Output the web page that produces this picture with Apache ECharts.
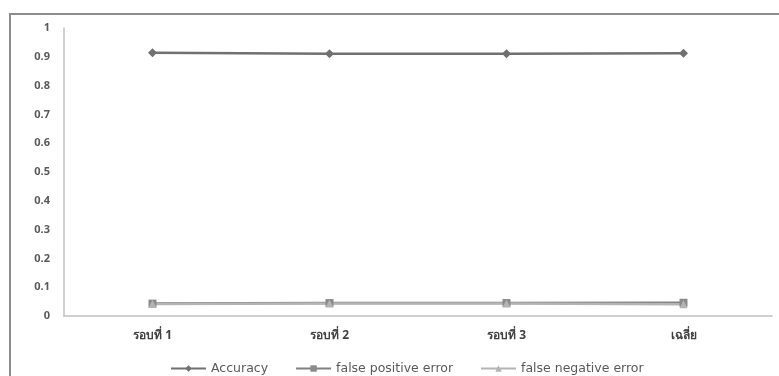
<!DOCTYPE html>
<html>
<head>
<meta charset="utf-8">
<script src="https://cdn.jsdelivr.net/npm/echarts@6/dist/echarts.min.js"></script>
<style>
  html, body { margin: 0; padding: 0; background: #fff; }
  #chart { width: 779px; height: 376px; }
</style>
</head>
<body>
<div id="chart"></div>
<script>
// Rounds of evaluation and the average
const categories = ['รอบที่ 1', 'รอบที่ 2', 'รอบที่ 3', 'เฉลี่ย'];
const accuracy = [0.914, 0.911, 0.911, 0.912];
const falsePositive = [0.043, 0.045, 0.045, 0.046];
const falseNegative = [0.042, 0.043, 0.043, 0.041];
const yTicks = [0, 0.1, 0.2, 0.3, 0.4, 0.5, 0.6, 0.7, 0.8, 0.9, 1];

const chart = echarts.init(document.getElementById('chart'));
const font = '"Noto Sans", "DejaVu Sans", sans-serif';
const legendFont = '"DejaVu Sans", sans-serif';

chart.setOption({
  backgroundColor: '#ffffff',
  animation: false,
  graphic: [{
    type: 'rect',
    shape: { x: 10, y: 14, width: 800, height: 400 },
    style: { fill: 'none', stroke: '#8c8c8c', lineWidth: 2 },
    silent: true
  }],
  grid: { left: 64, top: 28, right: 7, bottom: 60 },
  legend: {
    top: 357,
    left: 165,
    itemWidth: 35,
    itemHeight: 8,
    itemGap: 27,
    textStyle: { fontFamily: legendFont, fontSize: 12.5, color: '#595959' },
    data: ['Accuracy', 'false positive error', 'false negative error']
  },
  xAxis: {
    type: 'category',
    data: categories,
    axisLine: { lineStyle: { color: '#c0c0c0', width: 1.5 } },
    axisTick: { show: false },
    axisLabel: { fontFamily: font, fontSize: 12, fontWeight: 'bold', color: '#404040', margin: 14 }
  },
  yAxis: {
    type: 'value',
    min: 0,
    max: 1,
    interval: 0.1,
    splitLine: { show: false },
    axisLine: { show: true, lineStyle: { color: '#c0c0c0', width: 1.5 } },
    axisTick: { show: false },
    axisLabel: {
      fontFamily: font, fontSize: 11, fontWeight: 'bold', color: '#595959', margin: 14,
      formatter: v => {
        const t = yTicks.find(k => Math.abs(k - v) < 1e-9);
        return t === undefined ? '' : String(t);
      }
    }
  },
  series: [
    {
      name: 'Accuracy', type: 'line', data: accuracy,
      symbol: 'diamond', symbolSize: 9,
      lineStyle: { color: '#707070', width: 2.5 },
      itemStyle: { color: '#707070' }
    },
    {
      name: 'false positive error', type: 'line', data: falsePositive,
      symbol: 'rect', symbolSize: 8,
      lineStyle: { color: '#808080', width: 2.5 },
      itemStyle: { color: '#8a8a8a' }
    },
    {
      name: 'false negative error', type: 'line', data: falseNegative,
      symbol: 'triangle', symbolSize: 8,
      lineStyle: { color: '#b4b4b4', width: 2.5 },
      itemStyle: { color: '#b4b4b4' }
    }
  ]
});
</script>
</body>
</html>
